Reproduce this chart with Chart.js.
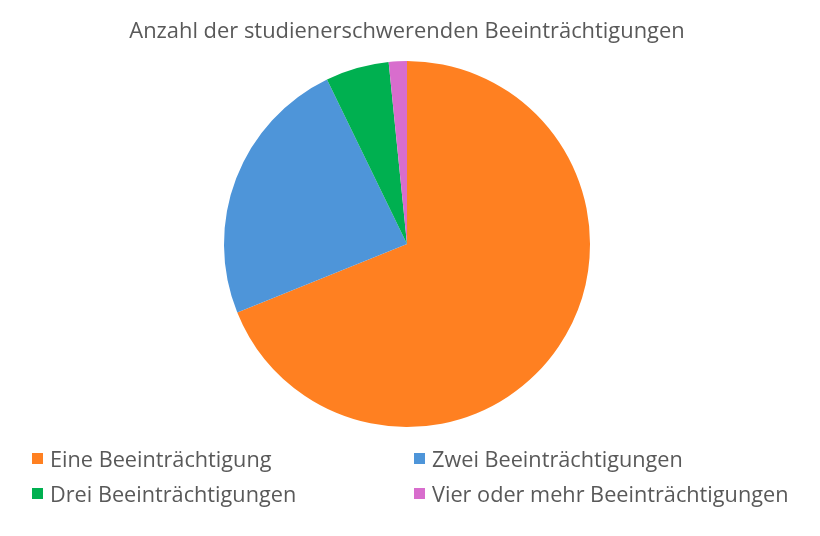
<!DOCTYPE html>
<html>
<head>
<meta charset="utf-8">
<script src="https://cdn.jsdelivr.net/npm/chart.js@4.4.1/dist/chart.umd.min.js"></script>
<style>
  html, body { margin: 0; padding: 0; background: #fff; }
  #wrap { position: relative; width: 820px; height: 536px; }
  #legend { position: absolute; left: 0; top: 0; width: 820px; height: 536px; pointer-events: none;
            font-family: "Open Sans", sans-serif; font-size: 21.7px; color: #595959; }
  .item { position: absolute; display: flex; align-items: center; white-space: nowrap; }
  .box { width: 11px; height: 11px; margin-right: 7px; }
</style>
</head>
<body>
<div id="wrap">
  <canvas id="c" width="820" height="536"></canvas>
  <div id="legend"></div>
</div>
<script>
const titleText = "Anzahl der studienerschwerenden Beeinträchtigungen";
const categories = ["Eine Beeinträchtigung", "Zwei Beeinträchtigungen", "Drei Beeinträchtigungen", "Vier oder mehr Beeinträchtigungen"];
const values = [68.9, 23.9, 5.6, 1.6];
const colors = ["#FF8021", "#4E95D9", "#00B050", "#D86DCD"];

const chart = new Chart(document.getElementById("c"), {
  type: "pie",
  data: {
    labels: categories,
    datasets: [{ data: values, backgroundColor: colors, borderWidth: 0 }]
  },
  options: {
    responsive: false,
    animation: false,
    layout: { padding: { left: 0, right: 6, top: 0, bottom: 109 } },
    plugins: {
      legend: { display: false },
      tooltip: { enabled: false },
      title: {
        display: true,
        text: titleText,
        color: "#595959",
        font: { family: "Open Sans", size: 21.9, weight: "normal", lineHeight: 1.2 },
        padding: { top: 19, bottom: 15.7 }
      }
    }
  }
});

// Legend (two columns) built from the same arrays
const legendPos = [[32, 458], [414, 458], [32, 493], [414, 493]];
const legend = document.getElementById("legend");
categories.forEach((label, i) => {
  const it = document.createElement("div");
  it.className = "item";
  it.style.left = legendPos[i][0] + "px";
  it.style.top = (legendPos[i][1] - 14) + "px";
  it.style.height = "28px";
  const b = document.createElement("span");
  b.className = "box";
  b.style.background = colors[i];
  const t = document.createElement("span");
  t.textContent = label;
  it.appendChild(b); it.appendChild(t);
  legend.appendChild(it);
});
</script>
</body>
</html>
